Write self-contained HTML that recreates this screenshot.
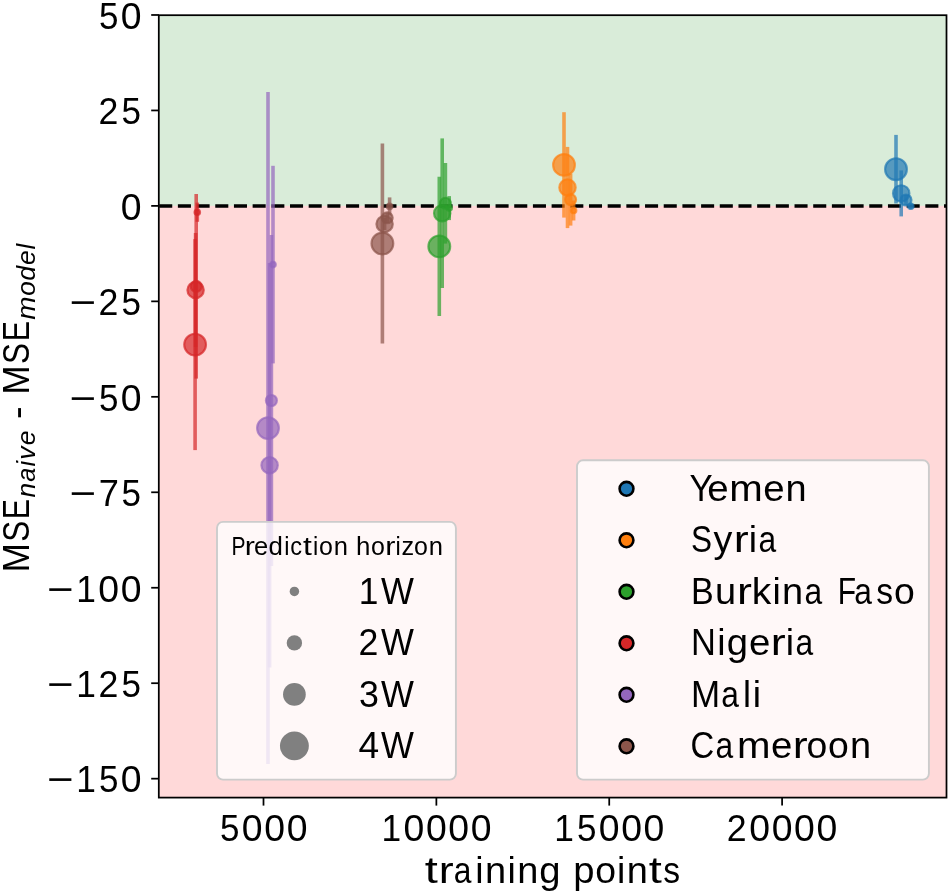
<!DOCTYPE html><html><head><meta charset="utf-8"><style>html,body{margin:0;padding:0;background:#fff;}body{width:950px;height:894px;overflow:hidden}svg{display:block;will-change:transform}</style></head><body>
<svg width="950" height="894" viewBox="0 0 950 894" font-family="'Liberation Sans', sans-serif">
<rect width="950" height="894" fill="#fff"/>
<rect x="158.8" y="15.2" width="787.70" height="190.70" fill="#d9ecd9"/>
<rect x="158.8" y="205.90" width="787.70" height="591.70" fill="#ffd9d9"/>
<line x1="158.8" y1="205.90" x2="946.5" y2="205.90" stroke="#000" stroke-width="3.55" stroke-dasharray="13.05 5.636" stroke-dashoffset="-0.4"/>
<line x1="910.8" y1="203.30" x2="910.8" y2="209.30" stroke="#1f77b4" stroke-opacity="0.7" stroke-width="3.6"/>
<circle cx="910.8" cy="206.3" r="2.75" fill="#1f77b4" fill-opacity="0.7" stroke="#1f77b4" stroke-opacity="0.7" stroke-width="2.14"/>
<line x1="906.0" y1="195.00" x2="906.0" y2="205.00" stroke="#1f77b4" stroke-opacity="0.7" stroke-width="3.6"/>
<circle cx="906.0" cy="200.0" r="5.50" fill="#1f77b4" fill-opacity="0.7" stroke="#1f77b4" stroke-opacity="0.7" stroke-width="2.14"/>
<line x1="901.2" y1="170.40" x2="901.2" y2="216.40" stroke="#1f77b4" stroke-opacity="0.7" stroke-width="3.6"/>
<circle cx="901.2" cy="193.4" r="8.20" fill="#1f77b4" fill-opacity="0.7" stroke="#1f77b4" stroke-opacity="0.7" stroke-width="2.14"/>
<line x1="896.0" y1="134.90" x2="896.0" y2="203.50" stroke="#1f77b4" stroke-opacity="0.7" stroke-width="3.6"/>
<circle cx="896.0" cy="169.2" r="10.90" fill="#1f77b4" fill-opacity="0.7" stroke="#1f77b4" stroke-opacity="0.7" stroke-width="2.14"/>
<line x1="573.6" y1="200.50" x2="573.6" y2="220.50" stroke="#ff7f0e" stroke-opacity="0.7" stroke-width="3.6"/>
<circle cx="573.6" cy="210.5" r="2.75" fill="#ff7f0e" fill-opacity="0.7" stroke="#ff7f0e" stroke-opacity="0.7" stroke-width="2.14"/>
<line x1="570.6" y1="173.60" x2="570.6" y2="225.60" stroke="#ff7f0e" stroke-opacity="0.7" stroke-width="3.6"/>
<circle cx="570.6" cy="199.6" r="5.50" fill="#ff7f0e" fill-opacity="0.7" stroke="#ff7f0e" stroke-opacity="0.7" stroke-width="2.14"/>
<line x1="567.5" y1="146.90" x2="567.5" y2="228.10" stroke="#ff7f0e" stroke-opacity="0.7" stroke-width="3.6"/>
<circle cx="567.5" cy="187.5" r="8.20" fill="#ff7f0e" fill-opacity="0.7" stroke="#ff7f0e" stroke-opacity="0.7" stroke-width="2.14"/>
<line x1="564.0" y1="112.20" x2="564.0" y2="217.60" stroke="#ff7f0e" stroke-opacity="0.7" stroke-width="3.6"/>
<circle cx="564.0" cy="164.9" r="10.90" fill="#ff7f0e" fill-opacity="0.7" stroke="#ff7f0e" stroke-opacity="0.7" stroke-width="2.14"/>
<line x1="449.2" y1="196.10" x2="449.2" y2="220.10" stroke="#2ca02c" stroke-opacity="0.7" stroke-width="3.6"/>
<circle cx="449.2" cy="208.1" r="2.75" fill="#2ca02c" fill-opacity="0.7" stroke="#2ca02c" stroke-opacity="0.7" stroke-width="2.14"/>
<line x1="445.4" y1="163.00" x2="445.4" y2="243.60" stroke="#2ca02c" stroke-opacity="0.7" stroke-width="3.6"/>
<circle cx="445.4" cy="203.3" r="5.50" fill="#2ca02c" fill-opacity="0.7" stroke="#2ca02c" stroke-opacity="0.7" stroke-width="2.14"/>
<line x1="442.2" y1="138.40" x2="442.2" y2="288.00" stroke="#2ca02c" stroke-opacity="0.7" stroke-width="3.6"/>
<circle cx="442.2" cy="213.2" r="8.20" fill="#2ca02c" fill-opacity="0.7" stroke="#2ca02c" stroke-opacity="0.7" stroke-width="2.14"/>
<line x1="439.3" y1="176.80" x2="439.3" y2="316.00" stroke="#2ca02c" stroke-opacity="0.7" stroke-width="3.6"/>
<circle cx="439.3" cy="246.4" r="10.90" fill="#2ca02c" fill-opacity="0.7" stroke="#2ca02c" stroke-opacity="0.7" stroke-width="2.14"/>
<line x1="197.3" y1="202.60" x2="197.3" y2="221.80" stroke="#d62728" stroke-opacity="0.7" stroke-width="3.6"/>
<circle cx="197.3" cy="212.2" r="2.75" fill="#d62728" fill-opacity="0.7" stroke="#d62728" stroke-opacity="0.7" stroke-width="2.14"/>
<line x1="196.2" y1="194.00" x2="196.2" y2="378.60" stroke="#d62728" stroke-opacity="0.7" stroke-width="3.6"/>
<circle cx="196.2" cy="286.3" r="5.50" fill="#d62728" fill-opacity="0.7" stroke="#d62728" stroke-opacity="0.7" stroke-width="2.14"/>
<line x1="195.6" y1="233.00" x2="195.6" y2="347.00" stroke="#d62728" stroke-opacity="0.7" stroke-width="3.6"/>
<circle cx="195.6" cy="290.0" r="8.20" fill="#d62728" fill-opacity="0.7" stroke="#d62728" stroke-opacity="0.7" stroke-width="2.14"/>
<line x1="195.1" y1="239.10" x2="195.1" y2="450.10" stroke="#d62728" stroke-opacity="0.7" stroke-width="3.6"/>
<circle cx="195.1" cy="344.6" r="10.90" fill="#d62728" fill-opacity="0.7" stroke="#d62728" stroke-opacity="0.7" stroke-width="2.14"/>
<line x1="273.0" y1="165.80" x2="273.0" y2="363.40" stroke="#9467bd" stroke-opacity="0.7" stroke-width="3.6"/>
<circle cx="273.0" cy="264.6" r="2.75" fill="#9467bd" fill-opacity="0.7" stroke="#9467bd" stroke-opacity="0.7" stroke-width="2.14"/>
<line x1="271.4" y1="235.10" x2="271.4" y2="565.90" stroke="#9467bd" stroke-opacity="0.7" stroke-width="3.6"/>
<circle cx="271.4" cy="400.5" r="5.50" fill="#9467bd" fill-opacity="0.7" stroke="#9467bd" stroke-opacity="0.7" stroke-width="2.14"/>
<line x1="269.6" y1="263.00" x2="269.6" y2="667.40" stroke="#9467bd" stroke-opacity="0.7" stroke-width="3.6"/>
<circle cx="269.6" cy="465.2" r="8.20" fill="#9467bd" fill-opacity="0.7" stroke="#9467bd" stroke-opacity="0.7" stroke-width="2.14"/>
<line x1="268.0" y1="92.10" x2="268.0" y2="764.10" stroke="#9467bd" stroke-opacity="0.7" stroke-width="3.6"/>
<circle cx="268.0" cy="428.1" r="10.90" fill="#9467bd" fill-opacity="0.7" stroke="#9467bd" stroke-opacity="0.7" stroke-width="2.14"/>
<line x1="389.6" y1="197.40" x2="389.6" y2="215.40" stroke="#8c564b" stroke-opacity="0.7" stroke-width="3.6"/>
<circle cx="389.6" cy="206.4" r="2.75" fill="#8c564b" fill-opacity="0.7" stroke="#8c564b" stroke-opacity="0.7" stroke-width="2.14"/>
<line x1="387.2" y1="212.80" x2="387.2" y2="222.80" stroke="#8c564b" stroke-opacity="0.7" stroke-width="3.6"/>
<circle cx="387.2" cy="217.8" r="5.50" fill="#8c564b" fill-opacity="0.7" stroke="#8c564b" stroke-opacity="0.7" stroke-width="2.14"/>
<line x1="384.6" y1="218.00" x2="384.6" y2="230.00" stroke="#8c564b" stroke-opacity="0.7" stroke-width="3.6"/>
<circle cx="384.6" cy="224.0" r="8.20" fill="#8c564b" fill-opacity="0.7" stroke="#8c564b" stroke-opacity="0.7" stroke-width="2.14"/>
<line x1="382.4" y1="143.50" x2="382.4" y2="343.50" stroke="#8c564b" stroke-opacity="0.7" stroke-width="3.6"/>
<circle cx="382.4" cy="243.5" r="10.90" fill="#8c564b" fill-opacity="0.7" stroke="#8c564b" stroke-opacity="0.7" stroke-width="2.14"/>
<rect x="158.8" y="15.2" width="787.70" height="782.40" fill="none" stroke="#000" stroke-width="1.75" stroke-linejoin="miter"/>
<line x1="151.20" y1="14.98" x2="158.8" y2="14.98" stroke="#000" stroke-width="1.75"/>
<text x="98.99" y="28.78" font-size="37.35" textLength="19.47" lengthAdjust="spacingAndGlyphs" style="" fill="#000">5</text>
<text x="120.82" y="28.78" font-size="37.35" textLength="20.79" lengthAdjust="spacingAndGlyphs" style="" fill="#000">0</text>
<line x1="151.20" y1="110.44" x2="158.8" y2="110.44" stroke="#000" stroke-width="1.75"/>
<text x="98.48" y="124.24" font-size="37.35" textLength="19.87" lengthAdjust="spacingAndGlyphs" style="" fill="#000">2</text>
<text x="121.42" y="124.24" font-size="37.35" textLength="19.47" lengthAdjust="spacingAndGlyphs" style="" fill="#000">5</text>
<line x1="151.20" y1="205.90" x2="158.8" y2="205.90" stroke="#000" stroke-width="1.75"/>
<text x="120.82" y="219.70" font-size="37.35" textLength="20.79" lengthAdjust="spacingAndGlyphs" style="" fill="#000">0</text>
<line x1="151.20" y1="301.36" x2="158.8" y2="301.36" stroke="#000" stroke-width="1.75"/>
<text x="69.57" y="315.16" font-size="37.35" textLength="26.64" lengthAdjust="spacingAndGlyphs" style="" fill="#000">−</text>
<text x="98.48" y="315.16" font-size="37.35" textLength="19.87" lengthAdjust="spacingAndGlyphs" style="" fill="#000">2</text>
<text x="121.42" y="315.16" font-size="37.35" textLength="19.47" lengthAdjust="spacingAndGlyphs" style="" fill="#000">5</text>
<line x1="151.20" y1="396.82" x2="158.8" y2="396.82" stroke="#000" stroke-width="1.75"/>
<text x="69.57" y="410.62" font-size="37.35" textLength="26.64" lengthAdjust="spacingAndGlyphs" style="" fill="#000">−</text>
<text x="98.99" y="410.62" font-size="37.35" textLength="19.47" lengthAdjust="spacingAndGlyphs" style="" fill="#000">5</text>
<text x="120.82" y="410.62" font-size="37.35" textLength="20.79" lengthAdjust="spacingAndGlyphs" style="" fill="#000">0</text>
<line x1="151.20" y1="492.29" x2="158.8" y2="492.29" stroke="#000" stroke-width="1.75"/>
<text x="69.57" y="506.09" font-size="37.35" textLength="26.64" lengthAdjust="spacingAndGlyphs" style="" fill="#000">−</text>
<text x="98.70" y="506.09" font-size="37.35" textLength="20.18" lengthAdjust="spacingAndGlyphs" style="" fill="#000">7</text>
<text x="121.42" y="506.09" font-size="37.35" textLength="19.47" lengthAdjust="spacingAndGlyphs" style="" fill="#000">5</text>
<line x1="151.20" y1="587.75" x2="158.8" y2="587.75" stroke="#000" stroke-width="1.75"/>
<text x="47.14" y="601.55" font-size="37.35" textLength="26.64" lengthAdjust="spacingAndGlyphs" style="" fill="#000">−</text>
<text x="76.37" y="601.55" font-size="37.35" textLength="19.66" lengthAdjust="spacingAndGlyphs" style="" fill="#000">1</text>
<text x="98.39" y="601.55" font-size="37.35" textLength="20.79" lengthAdjust="spacingAndGlyphs" style="" fill="#000">0</text>
<text x="120.82" y="601.55" font-size="37.35" textLength="20.79" lengthAdjust="spacingAndGlyphs" style="" fill="#000">0</text>
<line x1="151.20" y1="683.21" x2="158.8" y2="683.21" stroke="#000" stroke-width="1.75"/>
<text x="47.14" y="697.01" font-size="37.35" textLength="26.64" lengthAdjust="spacingAndGlyphs" style="" fill="#000">−</text>
<text x="76.37" y="697.01" font-size="37.35" textLength="19.66" lengthAdjust="spacingAndGlyphs" style="" fill="#000">1</text>
<text x="98.48" y="697.01" font-size="37.35" textLength="19.87" lengthAdjust="spacingAndGlyphs" style="" fill="#000">2</text>
<text x="121.42" y="697.01" font-size="37.35" textLength="19.47" lengthAdjust="spacingAndGlyphs" style="" fill="#000">5</text>
<line x1="151.20" y1="778.67" x2="158.8" y2="778.67" stroke="#000" stroke-width="1.75"/>
<text x="47.14" y="792.47" font-size="37.35" textLength="26.64" lengthAdjust="spacingAndGlyphs" style="" fill="#000">−</text>
<text x="76.37" y="792.47" font-size="37.35" textLength="19.66" lengthAdjust="spacingAndGlyphs" style="" fill="#000">1</text>
<text x="98.99" y="792.47" font-size="37.35" textLength="19.47" lengthAdjust="spacingAndGlyphs" style="" fill="#000">5</text>
<text x="120.82" y="792.47" font-size="37.35" textLength="20.79" lengthAdjust="spacingAndGlyphs" style="" fill="#000">0</text>
<line x1="263.50" y1="797.6" x2="263.50" y2="805.60" stroke="#000" stroke-width="1.75"/>
<text x="219.99" y="840.80" font-size="37.35" textLength="19.47" lengthAdjust="spacingAndGlyphs" style="" fill="#000">5</text>
<text x="241.82" y="840.80" font-size="37.35" textLength="20.79" lengthAdjust="spacingAndGlyphs" style="" fill="#000">0</text>
<text x="264.25" y="840.80" font-size="37.35" textLength="20.79" lengthAdjust="spacingAndGlyphs" style="" fill="#000">0</text>
<text x="286.68" y="840.80" font-size="37.35" textLength="20.79" lengthAdjust="spacingAndGlyphs" style="" fill="#000">0</text>
<line x1="436.37" y1="797.6" x2="436.37" y2="805.60" stroke="#000" stroke-width="1.75"/>
<text x="381.45" y="840.80" font-size="37.35" textLength="19.66" lengthAdjust="spacingAndGlyphs" style="" fill="#000">1</text>
<text x="403.47" y="840.80" font-size="37.35" textLength="20.79" lengthAdjust="spacingAndGlyphs" style="" fill="#000">0</text>
<text x="425.90" y="840.80" font-size="37.35" textLength="20.79" lengthAdjust="spacingAndGlyphs" style="" fill="#000">0</text>
<text x="448.33" y="840.80" font-size="37.35" textLength="20.79" lengthAdjust="spacingAndGlyphs" style="" fill="#000">0</text>
<text x="470.76" y="840.80" font-size="37.35" textLength="20.79" lengthAdjust="spacingAndGlyphs" style="" fill="#000">0</text>
<line x1="609.23" y1="797.6" x2="609.23" y2="805.60" stroke="#000" stroke-width="1.75"/>
<text x="554.32" y="840.80" font-size="37.35" textLength="19.66" lengthAdjust="spacingAndGlyphs" style="" fill="#000">1</text>
<text x="576.93" y="840.80" font-size="37.35" textLength="19.47" lengthAdjust="spacingAndGlyphs" style="" fill="#000">5</text>
<text x="598.77" y="840.80" font-size="37.35" textLength="20.79" lengthAdjust="spacingAndGlyphs" style="" fill="#000">0</text>
<text x="621.19" y="840.80" font-size="37.35" textLength="20.79" lengthAdjust="spacingAndGlyphs" style="" fill="#000">0</text>
<text x="643.62" y="840.80" font-size="37.35" textLength="20.79" lengthAdjust="spacingAndGlyphs" style="" fill="#000">0</text>
<line x1="782.10" y1="797.6" x2="782.10" y2="805.60" stroke="#000" stroke-width="1.75"/>
<text x="726.86" y="840.80" font-size="37.35" textLength="19.87" lengthAdjust="spacingAndGlyphs" style="" fill="#000">2</text>
<text x="749.20" y="840.80" font-size="37.35" textLength="20.79" lengthAdjust="spacingAndGlyphs" style="" fill="#000">0</text>
<text x="771.63" y="840.80" font-size="37.35" textLength="20.79" lengthAdjust="spacingAndGlyphs" style="" fill="#000">0</text>
<text x="794.06" y="840.80" font-size="37.35" textLength="20.79" lengthAdjust="spacingAndGlyphs" style="" fill="#000">0</text>
<text x="816.49" y="840.80" font-size="37.35" textLength="20.79" lengthAdjust="spacingAndGlyphs" style="" fill="#000">0</text>
<text x="424.88" y="883.20" font-size="37.35" textLength="13.08" lengthAdjust="spacingAndGlyphs" style="" fill="#000">t</text>
<text x="438.71" y="883.20" font-size="37.35" textLength="14.93" lengthAdjust="spacingAndGlyphs" style="" fill="#000">r</text>
<text x="453.69" y="883.20" font-size="37.35" textLength="17.66" lengthAdjust="spacingAndGlyphs" style="" fill="#000">a</text>
<text x="475.30" y="883.20" font-size="37.35" textLength="8.30" lengthAdjust="spacingAndGlyphs" style="" fill="#000">i</text>
<text x="485.05" y="883.20" font-size="37.35" textLength="21.11" lengthAdjust="spacingAndGlyphs" style="" fill="#000">n</text>
<text x="507.44" y="883.20" font-size="37.35" textLength="8.30" lengthAdjust="spacingAndGlyphs" style="" fill="#000">i</text>
<text x="517.19" y="883.20" font-size="37.35" textLength="21.11" lengthAdjust="spacingAndGlyphs" style="" fill="#000">n</text>
<text x="539.16" y="883.20" font-size="37.35" textLength="21.25" lengthAdjust="spacingAndGlyphs" style="" fill="#000">g</text>
<text x="573.22" y="883.20" font-size="37.35" textLength="21.25" lengthAdjust="spacingAndGlyphs" style="" fill="#000">p</text>
<text x="595.15" y="883.20" font-size="37.35" textLength="20.79" lengthAdjust="spacingAndGlyphs" style="" fill="#000">o</text>
<text x="617.09" y="883.20" font-size="37.35" textLength="8.30" lengthAdjust="spacingAndGlyphs" style="" fill="#000">i</text>
<text x="626.85" y="883.20" font-size="37.35" textLength="21.11" lengthAdjust="spacingAndGlyphs" style="" fill="#000">n</text>
<text x="648.72" y="883.20" font-size="37.35" textLength="13.08" lengthAdjust="spacingAndGlyphs" style="" fill="#000">t</text>
<text x="663.27" y="883.20" font-size="37.35" textLength="16.83" lengthAdjust="spacingAndGlyphs" style="" fill="#000">s</text>
<text x="-572.31" y="29.10" font-size="37.35" textLength="29.12" lengthAdjust="spacingAndGlyphs" style="" fill="#000" transform="rotate(-90)">M</text>
<text x="-541.81" y="29.10" font-size="37.35" textLength="21.02" lengthAdjust="spacingAndGlyphs" style="" fill="#000" transform="rotate(-90)">S</text>
<text x="-519.14" y="29.10" font-size="37.35" textLength="20.19" lengthAdjust="spacingAndGlyphs" style="" fill="#000" transform="rotate(-90)">E</text>
<text x="-497.44" y="34.90" font-size="26.14" textLength="14.67" lengthAdjust="spacingAndGlyphs" style="font-style:italic;" fill="#000" transform="rotate(-90)">n</text>
<text x="-481.85" y="34.90" font-size="26.14" textLength="13.97" lengthAdjust="spacingAndGlyphs" style="font-style:italic;" fill="#000" transform="rotate(-90)">a</text>
<text x="-466.58" y="34.90" font-size="26.14" textLength="5.68" lengthAdjust="spacingAndGlyphs" style="font-style:italic;" fill="#000" transform="rotate(-90)">i</text>
<text x="-459.86" y="34.90" font-size="26.14" textLength="13.32" lengthAdjust="spacingAndGlyphs" style="font-style:italic;" fill="#000" transform="rotate(-90)">v</text>
<text x="-445.33" y="34.90" font-size="26.14" textLength="14.81" lengthAdjust="spacingAndGlyphs" style="font-style:italic;" fill="#000" transform="rotate(-90)">e</text>
<text x="-419.03" y="29.10" font-size="37.35" textLength="12.62" lengthAdjust="spacingAndGlyphs" style="" fill="#000" transform="rotate(-90)">-</text>
<text x="-394.51" y="29.10" font-size="37.35" textLength="29.12" lengthAdjust="spacingAndGlyphs" style="" fill="#000" transform="rotate(-90)">M</text>
<text x="-364.02" y="29.10" font-size="37.35" textLength="21.02" lengthAdjust="spacingAndGlyphs" style="" fill="#000" transform="rotate(-90)">S</text>
<text x="-341.35" y="29.10" font-size="37.35" textLength="20.19" lengthAdjust="spacingAndGlyphs" style="" fill="#000" transform="rotate(-90)">E</text>
<text x="-319.67" y="34.90" font-size="26.14" textLength="23.25" lengthAdjust="spacingAndGlyphs" style="font-style:italic;" fill="#000" transform="rotate(-90)">m</text>
<text x="-295.79" y="34.90" font-size="26.14" textLength="14.53" lengthAdjust="spacingAndGlyphs" style="font-style:italic;" fill="#000" transform="rotate(-90)">o</text>
<text x="-280.67" y="34.90" font-size="26.14" textLength="14.91" lengthAdjust="spacingAndGlyphs" style="font-style:italic;" fill="#000" transform="rotate(-90)">d</text>
<text x="-264.95" y="34.90" font-size="26.14" textLength="14.81" lengthAdjust="spacingAndGlyphs" style="font-style:italic;" fill="#000" transform="rotate(-90)">e</text>
<text x="-249.45" y="34.90" font-size="26.14" textLength="5.68" lengthAdjust="spacingAndGlyphs" style="font-style:italic;" fill="#000" transform="rotate(-90)">l</text>
<rect x="217.0" y="521.9" width="238.90" height="257.70" rx="6" ry="6" fill="#fff" fill-opacity="0.8" stroke="#cccccc" stroke-width="1.9"/>
<text x="231.42" y="555.10" font-size="25.02" textLength="14.03" lengthAdjust="spacingAndGlyphs" style="" fill="#000">P</text>
<text x="244.83" y="555.10" font-size="25.02" textLength="10.16" lengthAdjust="spacingAndGlyphs" style="" fill="#000">r</text>
<text x="254.11" y="555.10" font-size="25.02" textLength="14.20" lengthAdjust="spacingAndGlyphs" style="" fill="#000">e</text>
<text x="268.63" y="555.10" font-size="25.02" textLength="14.37" lengthAdjust="spacingAndGlyphs" style="" fill="#000">d</text>
<text x="284.13" y="555.10" font-size="25.02" textLength="5.25" lengthAdjust="spacingAndGlyphs" style="" fill="#000">i</text>
<text x="290.28" y="555.10" font-size="25.02" textLength="11.78" lengthAdjust="spacingAndGlyphs" style="" fill="#000">c</text>
<text x="303.11" y="555.10" font-size="25.02" textLength="8.85" lengthAdjust="spacingAndGlyphs" style="" fill="#000">t</text>
<text x="312.94" y="555.10" font-size="25.02" textLength="5.25" lengthAdjust="spacingAndGlyphs" style="" fill="#000">i</text>
<text x="319.04" y="555.10" font-size="25.02" textLength="13.90" lengthAdjust="spacingAndGlyphs" style="" fill="#000">o</text>
<text x="333.71" y="555.10" font-size="25.02" textLength="14.23" lengthAdjust="spacingAndGlyphs" style="" fill="#000">n</text>
<text x="356.04" y="555.10" font-size="25.02" textLength="14.40" lengthAdjust="spacingAndGlyphs" style="" fill="#000">h</text>
<text x="370.95" y="555.10" font-size="25.02" textLength="13.90" lengthAdjust="spacingAndGlyphs" style="" fill="#000">o</text>
<text x="385.30" y="555.10" font-size="25.02" textLength="10.16" lengthAdjust="spacingAndGlyphs" style="" fill="#000">r</text>
<text x="395.58" y="555.10" font-size="25.02" textLength="5.25" lengthAdjust="spacingAndGlyphs" style="" fill="#000">i</text>
<text x="401.42" y="555.10" font-size="25.02" textLength="12.65" lengthAdjust="spacingAndGlyphs" style="" fill="#000">z</text>
<text x="414.08" y="555.10" font-size="25.02" textLength="13.90" lengthAdjust="spacingAndGlyphs" style="" fill="#000">o</text>
<text x="428.75" y="555.10" font-size="25.02" textLength="14.23" lengthAdjust="spacingAndGlyphs" style="" fill="#000">n</text>
<circle cx="294.4" cy="591.45" r="4.75" fill="#808080"/>
<text x="358.76" y="603.70" font-size="37.35" textLength="19.66" lengthAdjust="spacingAndGlyphs" style="" fill="#000">1</text>
<text x="381.04" y="603.70" font-size="37.35" textLength="32.88" lengthAdjust="spacingAndGlyphs" style="" fill="#000">W</text>
<circle cx="294.4" cy="642.92" r="7.70" fill="#808080"/>
<text x="358.43" y="655.17" font-size="37.35" textLength="19.87" lengthAdjust="spacingAndGlyphs" style="" fill="#000">2</text>
<text x="381.04" y="655.17" font-size="37.35" textLength="32.88" lengthAdjust="spacingAndGlyphs" style="" fill="#000">W</text>
<circle cx="294.4" cy="694.39" r="11.35" fill="#808080"/>
<text x="358.91" y="706.64" font-size="37.35" textLength="19.91" lengthAdjust="spacingAndGlyphs" style="" fill="#000">3</text>
<text x="381.04" y="706.64" font-size="37.35" textLength="32.88" lengthAdjust="spacingAndGlyphs" style="" fill="#000">W</text>
<circle cx="294.4" cy="745.86" r="14.45" fill="#808080"/>
<text x="358.48" y="758.11" font-size="37.35" textLength="20.65" lengthAdjust="spacingAndGlyphs" style="" fill="#000">4</text>
<text x="381.04" y="758.11" font-size="37.35" textLength="32.88" lengthAdjust="spacingAndGlyphs" style="" fill="#000">W</text>
<rect x="577.0" y="460.3" width="351.90" height="319.30" rx="6" ry="6" fill="#fff" fill-opacity="0.8" stroke="#cccccc" stroke-width="1.9"/>
<circle cx="626.5" cy="488.80" r="6.9" fill="#1f77b4" stroke="#000" stroke-width="2.6"/>
<text x="689.39" y="500.80" font-size="37.35" textLength="23.19" lengthAdjust="spacingAndGlyphs" style="" fill="#000">Y</text>
<text x="707.25" y="500.80" font-size="37.35" textLength="21.38" lengthAdjust="spacingAndGlyphs" style="" fill="#000">e</text>
<text x="729.30" y="500.80" font-size="37.35" textLength="33.52" lengthAdjust="spacingAndGlyphs" style="" fill="#000">m</text>
<text x="763.28" y="500.80" font-size="37.35" textLength="21.38" lengthAdjust="spacingAndGlyphs" style="" fill="#000">e</text>
<text x="785.47" y="500.80" font-size="37.35" textLength="21.11" lengthAdjust="spacingAndGlyphs" style="" fill="#000">n</text>
<circle cx="626.5" cy="540.30" r="6.9" fill="#ff7f0e" stroke="#000" stroke-width="2.6"/>
<text x="690.97" y="552.30" font-size="37.35" textLength="21.02" lengthAdjust="spacingAndGlyphs" style="" fill="#000">S</text>
<text x="713.57" y="552.30" font-size="37.35" textLength="18.81" lengthAdjust="spacingAndGlyphs" style="" fill="#000">y</text>
<text x="733.69" y="552.30" font-size="37.35" textLength="14.93" lengthAdjust="spacingAndGlyphs" style="" fill="#000">r</text>
<text x="748.68" y="552.30" font-size="37.35" textLength="8.30" lengthAdjust="spacingAndGlyphs" style="" fill="#000">i</text>
<text x="758.47" y="552.30" font-size="37.35" textLength="17.66" lengthAdjust="spacingAndGlyphs" style="" fill="#000">a</text>
<circle cx="626.5" cy="591.80" r="6.9" fill="#2ca02c" stroke="#000" stroke-width="2.6"/>
<text x="690.96" y="603.80" font-size="37.35" textLength="22.75" lengthAdjust="spacingAndGlyphs" style="" fill="#000">B</text>
<text x="714.97" y="603.80" font-size="37.35" textLength="21.11" lengthAdjust="spacingAndGlyphs" style="" fill="#000">u</text>
<text x="736.98" y="603.80" font-size="37.35" textLength="14.93" lengthAdjust="spacingAndGlyphs" style="" fill="#000">r</text>
<text x="751.85" y="603.80" font-size="37.35" textLength="19.55" lengthAdjust="spacingAndGlyphs" style="" fill="#000">k</text>
<text x="772.38" y="603.80" font-size="37.35" textLength="8.30" lengthAdjust="spacingAndGlyphs" style="" fill="#000">i</text>
<text x="782.14" y="603.80" font-size="37.35" textLength="21.11" lengthAdjust="spacingAndGlyphs" style="" fill="#000">n</text>
<text x="804.51" y="603.80" font-size="37.35" textLength="17.66" lengthAdjust="spacingAndGlyphs" style="" fill="#000">a</text>
<text x="837.66" y="603.80" font-size="37.35" textLength="18.33" lengthAdjust="spacingAndGlyphs" style="" fill="#000">F</text>
<text x="854.36" y="603.80" font-size="37.35" textLength="17.66" lengthAdjust="spacingAndGlyphs" style="" fill="#000">a</text>
<text x="876.19" y="603.80" font-size="37.35" textLength="16.83" lengthAdjust="spacingAndGlyphs" style="" fill="#000">s</text>
<text x="893.95" y="603.80" font-size="37.35" textLength="20.79" lengthAdjust="spacingAndGlyphs" style="" fill="#000">o</text>
<circle cx="626.5" cy="643.30" r="6.9" fill="#d62728" stroke="#000" stroke-width="2.6"/>
<text x="690.93" y="655.30" font-size="37.35" textLength="24.90" lengthAdjust="spacingAndGlyphs" style="" fill="#000">N</text>
<text x="717.32" y="655.30" font-size="37.35" textLength="8.30" lengthAdjust="spacingAndGlyphs" style="" fill="#000">i</text>
<text x="726.70" y="655.30" font-size="37.35" textLength="21.25" lengthAdjust="spacingAndGlyphs" style="" fill="#000">g</text>
<text x="748.94" y="655.30" font-size="37.35" textLength="21.38" lengthAdjust="spacingAndGlyphs" style="" fill="#000">e</text>
<text x="770.67" y="655.30" font-size="37.35" textLength="14.93" lengthAdjust="spacingAndGlyphs" style="" fill="#000">r</text>
<text x="785.67" y="655.30" font-size="37.35" textLength="8.30" lengthAdjust="spacingAndGlyphs" style="" fill="#000">i</text>
<text x="795.45" y="655.30" font-size="37.35" textLength="17.66" lengthAdjust="spacingAndGlyphs" style="" fill="#000">a</text>
<circle cx="626.5" cy="694.80" r="6.9" fill="#9467bd" stroke="#000" stroke-width="2.6"/>
<text x="690.89" y="706.80" font-size="37.35" textLength="29.12" lengthAdjust="spacingAndGlyphs" style="" fill="#000">M</text>
<text x="721.36" y="706.80" font-size="37.35" textLength="17.66" lengthAdjust="spacingAndGlyphs" style="" fill="#000">a</text>
<text x="743.06" y="706.80" font-size="37.35" textLength="8.00" lengthAdjust="spacingAndGlyphs" style="" fill="#000">l</text>
<text x="752.76" y="706.80" font-size="37.35" textLength="8.30" lengthAdjust="spacingAndGlyphs" style="" fill="#000">i</text>
<circle cx="626.5" cy="746.30" r="6.9" fill="#8c564b" stroke="#000" stroke-width="2.6"/>
<text x="690.55" y="758.30" font-size="37.35" textLength="23.71" lengthAdjust="spacingAndGlyphs" style="" fill="#000">C</text>
<text x="715.56" y="758.30" font-size="37.35" textLength="17.66" lengthAdjust="spacingAndGlyphs" style="" fill="#000">a</text>
<text x="736.97" y="758.30" font-size="37.35" textLength="33.52" lengthAdjust="spacingAndGlyphs" style="" fill="#000">m</text>
<text x="770.96" y="758.30" font-size="37.35" textLength="21.38" lengthAdjust="spacingAndGlyphs" style="" fill="#000">e</text>
<text x="792.69" y="758.30" font-size="37.35" textLength="14.93" lengthAdjust="spacingAndGlyphs" style="" fill="#000">r</text>
<text x="806.53" y="758.30" font-size="37.35" textLength="20.79" lengthAdjust="spacingAndGlyphs" style="" fill="#000">o</text>
<text x="828.10" y="758.30" font-size="37.35" textLength="20.79" lengthAdjust="spacingAndGlyphs" style="" fill="#000">o</text>
<text x="850.00" y="758.30" font-size="37.35" textLength="21.11" lengthAdjust="spacingAndGlyphs" style="" fill="#000">n</text>
</svg></body></html>
